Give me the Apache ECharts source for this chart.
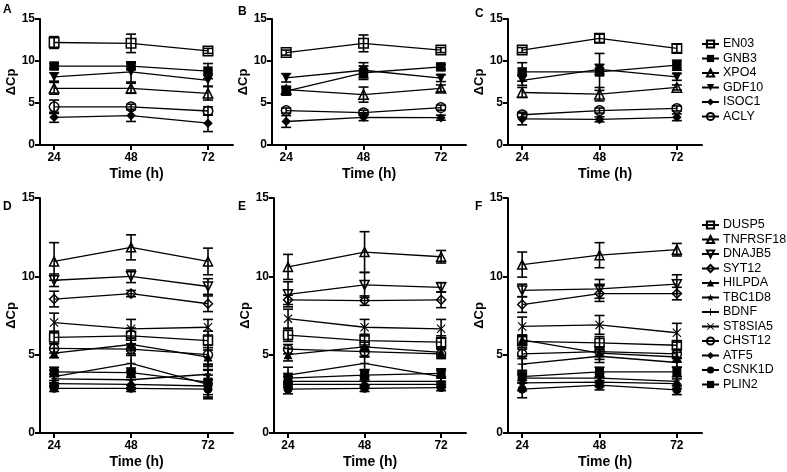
<!DOCTYPE html>
<html><head><meta charset="utf-8">
<script src="https://cdn.jsdelivr.net/npm/echarts@6/dist/echarts.min.js"></script>
<style>html,body{margin:0;padding:0;background:#fff}#c{width:787px;height:472px}</style>
</head><body><div id="c"></div>
<script>
const times = [24, 48, 72];
const xTicks = [24, 48, 72];
const topGenes = ['EN03','GNB3','XPO4','GDF10','ISOC1','ACLY'];
const bottomGenes = ['DUSP5','TNFRSF18','DNAJB5','SYT12','HILPDA','TBC1D8','BDNF','ST8SIA5','CHST12','ATF5','CSNK1D','PLIN2'];

// Panel A-C values, rows follow topGenes order
const panelA = [[12.2,12.1,11.2],[9.4,9.4,8.8],[6.75,6.75,6.15],[8.1,8.7,7.7],[3.3,3.5,2.6],[4.55,4.55,4.05]];
const errA   = [[0.7,1.1,0.3],[0.3,0.4,0.9],[0.7,0.6,0.8],[0.5,1.2,0.7],[0.6,0.7,1.0],[0.8,0.3,0.5]];
const panelB = [[11.0,12.1,11.3],[6.4,8.6,9.3],[6.6,6.0,6.75],[8.0,8.9,7.95],[2.8,3.3,3.25],[4.1,3.85,4.45]];
const errB   = [[0.3,1.0,0.3],[0.4,0.8,0.3],[0.4,0.9,0.4],[0.5,0.9,0.4],[0.7,0.4,0.3],[0.3,0.3,0.3]];
const panelC = [[11.3,12.7,11.5],[8.7,8.7,9.5],[6.25,6.05,6.85],[7.7,9.0,8.1],[3.1,3.05,3.3],[3.6,4.1,4.35]];
const errC   = [[0.3,0.5,0.5],[1.1,2.2,0.6],[0.6,0.8,0.3],[0.6,0.6,0.4],[0.7,0.3,0.4],[0.3,0.3,0.3]];

// Panel D-F values, rows follow bottomGenes order
const panelD = [[6.1,6.2,5.9],[10.95,11.85,10.95],[9.75,10.0,9.35],[8.55,8.9,8.25],[5.1,5.65,4.85],[3.45,3.4,3.75],[3.6,4.45,3.1],[7.05,6.65,6.75],[5.4,5.35,5.0],[3.15,3.1,3.0],[2.85,2.85,2.8],[3.9,3.85,3.25]];
const errD   = [[0.4,0.5,0.6],[1.2,0.8,0.85],[0.4,0.4,0.5],[0.5,0.2,0.5],[0.3,0.4,0.6],[0.3,0.5,0.6],[0.4,0.5,0.9],[0.6,0.6,0.5],[0.3,0.3,0.6],[0.2,0.3,0.7],[0.2,0.2,0.6],[0.3,0.3,0.8]];
const panelE = [[6.25,5.9,5.8],[10.6,11.55,11.25],[8.85,9.45,9.3],[8.5,8.45,8.5],[5.0,5.5,5.15],[3.3,3.3,3.3],[3.7,4.45,3.6],[7.3,6.75,6.65],[5.35,5.2,5.05],[3.1,3.1,3.1],[2.8,2.85,2.9],[3.5,3.7,3.8]];
const errE   = [[0.4,0.4,0.4],[0.8,1.3,0.4],[0.8,0.8,0.3],[0.3,0.3,0.5],[0.4,0.3,0.3],[0.3,0.3,0.3],[0.5,0.4,0.4],[0.6,0.5,0.6],[0.3,0.3,0.3],[0.2,0.2,0.2],[0.3,0.2,0.2],[0.3,0.3,0.3]];
const panelF = [[5.85,5.75,5.6],[10.75,11.35,11.7],[9.1,9.2,9.5],[8.2,8.9,8.9],[5.95,5.1,4.85],[3.5,3.5,3.3],[4.4,4.9,4.5],[6.8,6.9,6.4],[5.05,5.2,5.05],[3.2,3.25,3.15],[2.8,3.05,2.75],[3.6,3.9,3.9]];
const errF   = [[0.4,0.4,0.3],[0.8,0.8,0.4],[0.4,0.6,0.6],[0.5,0.5,0.4],[0.3,0.4,0.3],[0.3,0.3,0.3],[0.5,0.4,0.3],[0.6,0.6,0.6],[0.3,0.3,0.3],[0.5,0.3,0.3],[0.55,0.3,0.3],[0.4,0.3,0.3]];

const FONT = '"Liberation Sans", Arial, sans-serif';
const STAR = 'path://M0,-8L2.06,-2.83L7.61,-2.47L3.33,1.08L4.7,6.47L0,3.5L-4.7,6.47L-3.33,1.08L-7.61,-2.47L-2.06,-2.83Z';
const PLUS = 'path://M-1,-8L1,-8L1,-1L8,-1L8,1L1,1L1,8L-1,8L-1,1L-8,1L-8,-1L-1,-1Z';
const XMARK = 'path://M-8,-6.6L-6.6,-8L0,-1.4L6.6,-8L8,-6.6L1.4,0L8,6.6L6.6,8L0,1.4L-6.6,8L-8,6.6L-1.4,0Z';
const sym = {
  EN03:{s:'rect',f:false}, GNB3:{s:'rect',f:true}, XPO4:{s:'triangle',f:false},
  GDF10:{s:'triangle',f:true,r:180}, ISOC1:{s:'diamond',f:true}, ACLY:{s:'circle',f:false},
  DUSP5:{s:'rect',f:false}, TNFRSF18:{s:'triangle',f:false}, DNAJB5:{s:'triangle',f:false,r:180},
  SYT12:{s:'diamond',f:false}, HILPDA:{s:'triangle',f:true}, TBC1D8:{s:STAR,f:true,z:7},
  BDNF:{s:PLUS,f:true,z:9}, ST8SIA5:{s:XMARK,f:true,z:9}, CHST12:{s:'circle',f:false},
  ATF5:{s:'diamond',f:true}, CSNK1D:{s:'circle',f:true}, PLIN2:{s:'rect',f:true}
};

const grids = [
  {left:40, top:19, width:193, height:126},
  {left:272, top:19, width:194, height:126},
  {left:508, top:19, width:194, height:126},
  {left:40, top:198, width:193, height:235},
  {left:274, top:198, width:192, height:235},
  {left:508, top:198, width:194, height:235}
];
const panels = [
  {genes:topGenes, v:panelA, e:errA},
  {genes:topGenes, v:panelB, e:errB},
  {genes:topGenes, v:panelC, e:errC},
  {genes:bottomGenes, v:panelD, e:errD},
  {genes:bottomGenes, v:panelE, e:errE},
  {genes:bottomGenes, v:panelF, e:errF}
];

const xAxes = grids.map((g,i)=>({
  gridIndex:i, type:'value', min:19.6, max:79.8,
  name:'Time (h)', nameLocation:'middle', nameGap:22,
  nameTextStyle:{fontFamily:FONT, fontWeight:'bold', fontSize:14, color:'#000'},
  axisLine:{lineStyle:{color:'#000', width:2}},
  axisTick:{show:true, customValues:xTicks, length:5, lineStyle:{color:'#000', width:2}},
  axisLabel:{customValues:xTicks, fontFamily:FONT, fontWeight:'bold', fontSize:12, color:'#000', margin:7},
  splitLine:{show:false}
}));
const yAxes = grids.map((g,i)=>({
  gridIndex:i, type:'value', min:0, max:15, interval:5,
  name:'ΔCp', nameLocation:'middle', nameGap:22, nameRotate:90,
  nameTextStyle:{fontFamily:FONT, fontWeight:'bold', fontSize:13, color:'#000'},
  axisLine:{show:true, lineStyle:{color:'#000', width:2}},
  axisTick:{show:true, length:5, lineStyle:{color:'#000', width:2}},
  axisLabel:{fontFamily:FONT, fontWeight:'bold', fontSize:12, color:'#000', margin:5},
  splitLine:{show:false}
}));

const series = [];
panels.forEach((p, gi)=>{
  const size = gi<3 ? 9.5 : 9;
  const bars = [];
  p.genes.forEach((g, k)=>{
    const st = sym[g];
    series.push({
      type:'line', name:g, xAxisIndex:gi, yAxisIndex:gi,
      data: times.map((t,j)=>[t, p.v[k][j]]),
      symbol: st.s, symbolSize: st.z || size, symbolRotate: st.r || 0,
      showAllSymbol:true, animation:false, z:3,
      lineStyle:{color:'#000', width:1.3},
      itemStyle:{color: st.f ? '#000' : 'rgba(255,255,255,0)', borderColor:'#000', borderWidth: st.f ? 0 : 1.5}
    });
    times.forEach((t,j)=>bars.push([t, p.v[k][j]-p.e[k][j], p.v[k][j]+p.e[k][j]]));
  });
  series.push({
    type:'custom', name:'err'+gi, xAxisIndex:gi, yAxisIndex:gi, z:2, clip:false, animation:false,
    encode:{x:0, y:[1,2]}, data:bars,
    renderItem:function(params, api){
      const x=api.value(0), lo=api.value(1), hi=api.value(2);
      const a=api.coord([x,lo]), b=api.coord([x,hi]); const w=5;
      const st={stroke:'#000', lineWidth:1.6};
      return {type:'group', children:[
        {type:'line', shape:{x1:a[0],y1:a[1],x2:b[0],y2:b[1]}, style:st},
        {type:'line', shape:{x1:a[0]-w,y1:a[1],x2:a[0]+w,y2:a[1]}, style:st},
        {type:'line', shape:{x1:b[0]-w,y1:b[1],x2:b[0]+w,y2:b[1]}, style:st}
      ]};
    }
  });
});

const letters = ['A','B','C','D','E','F'];
const letterPos = [[3,4],[238,6],[475,8],[3,201],[238,201],[475,201]];
const graphic = letters.map((L,i)=>({
  type:'text', left:letterPos[i][0], top:letterPos[i][1],
  style:{text:L, fontFamily:FONT, fontWeight:'bold', fontSize:12, fill:'#000'}
}));

const legendBase = {orient:'vertical', itemWidth:17, itemHeight:9, itemGap:1.5,
  textStyle:{fontFamily:FONT, fontSize:12.5, lineHeight:13, color:'#000', padding:[0,0,0,-1]}, selectedMode:false, padding:0};

const chart = echarts.init(document.getElementById('c'), null, {renderer:'canvas'});
chart.setOption({
  backgroundColor:'#fff', animation:false,
  grid: grids, xAxis: xAxes, yAxis: yAxes, series: series, graphic: graphic,
  legend:[
    Object.assign({}, legendBase, {left:701, top:37.5, data:topGenes}),
    Object.assign({}, legendBase, {left:701, top:218.5, data:bottomGenes})
  ]
});
</script></body></html>
